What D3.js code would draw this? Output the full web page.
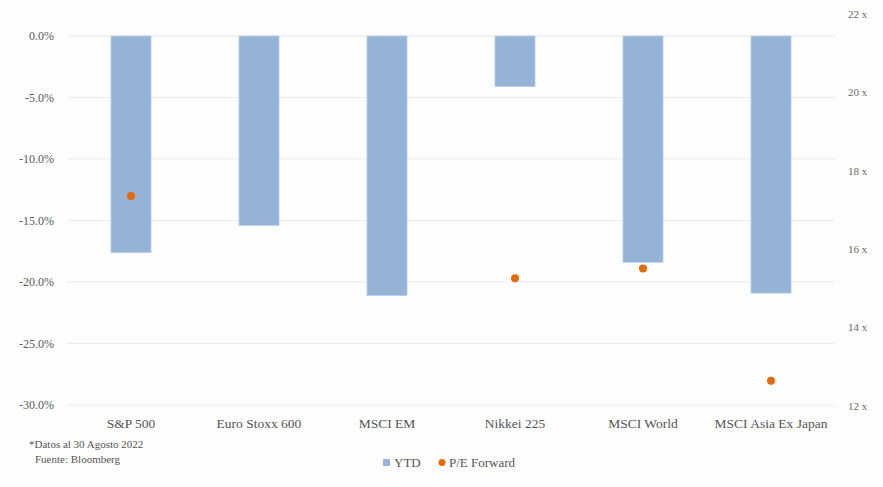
<!DOCTYPE html>
<html>
<head>
<meta charset="utf-8">
<script src="https://cdn.jsdelivr.net/npm/d3@7"></script>
<style>
  html, body { margin: 0; padding: 0; background: #fdfdfd; }
  svg { display: block; }
</style>
</head>
<body>
<svg id="chart" width="883" height="487"></svg>
<script>
const categories = ["S&P 500", "Euro Stoxx 600", "MSCI EM", "Nikkei 225", "MSCI World", "MSCI Asia Ex Japan"];
const ytd = [-17.6, -15.4, -21.1, -4.1, -18.4, -20.9];
const peForward = [17.35, null, null, 15.25, 15.5, 12.63];
const leftTicks = [0, -5, -10, -15, -20, -25, -30];
const rightTicks = [12, 14, 16, 18, 20, 22];
const notes = ["*Datos al 30 Agosto 2022", "Fuente: Bloomberg"];
const seriesNames = ["YTD", "P/E Forward"];

const FONT = "'Liberation Serif', 'Times New Roman', Times, serif";
const svg = d3.select("#chart");
const plotLeft = 67, plotRight = 835;

const x = d3.scaleBand().domain(categories).range([plotLeft, plotRight]).paddingInner(0.6875).paddingOuter(0.34375);
const yL = d3.scaleLinear().domain([-30, 0]).range([405, 36]);
const yR = d3.scaleLinear().domain([12, 22]).range([405.5, 14]);

// gridlines
svg.append("g").selectAll("line").data(leftTicks).join("line")
  .attr("x1", plotLeft).attr("x2", plotRight)
  .attr("y1", d => yL(d)).attr("y2", d => yL(d))
  .attr("stroke", "#ebebeb").attr("stroke-width", 1.2);

// left axis
const axL = d3.axisLeft(yL).tickValues(leftTicks).tickSize(0).tickPadding(0)
  .tickFormat(d => d3.format(".1f")(d).replace("\u2212", "-") + "%");
const gL = svg.append("g").attr("transform", "translate(54,0)").call(axL)
  .attr("font-family", FONT);
gL.select(".domain").remove();
gL.selectAll("text").style("font-size", "12px").style("fill", "#5a5a5a")
  .style("font-family", FONT);

// right axis
const axR = d3.axisRight(yR).tickValues(rightTicks).tickSize(0).tickPadding(0)
  .tickFormat(d => d + " x");
const gR = svg.append("g").attr("transform", "translate(848,0)").call(axR)
  .attr("font-family", FONT);
gR.select(".domain").remove();
gR.selectAll("text").style("font-size", "11px").style("fill", "#6a6a6a")
  .style("font-family", FONT);

// bars
svg.append("g").selectAll("rect").data(categories).join("rect")
  .attr("x", d => x(d))
  .attr("width", x.bandwidth())
  .attr("y", (d, i) => yL(0))
  .attr("height", (d, i) => yL(ytd[i]) - yL(0))
  .attr("fill", "#95b3d7")
  .attr("stroke", "#b7cce5").attr("stroke-width", 0.8);

// points
const ptData = categories.map((c, i) => ({c, v: peForward[i]})).filter(d => d.v != null);
svg.append("g").selectAll("circle").data(ptData).join("circle")
  .attr("cx", d => x(d.c) + x.bandwidth() / 2)
  .attr("cy", d => yR(d.v))
  .attr("r", 4)
  .attr("fill", "#e36c0a");

const txt = (sel) => sel.style("font-family", FONT).style("fill", "#555");

// category labels
svg.append("g").selectAll("text").data(categories).join("text")
  .attr("x", d => x(d) + x.bandwidth() / 2)
  .attr("y", 428)
  .attr("text-anchor", "middle")
  .style("font-size", "13.5px")
  .call(txt)
  .text(d => d);

// notes
svg.append("text").attr("x", 29).attr("y", 448).style("font-size", "11px").call(txt).text(notes[0]);
svg.append("text").attr("x", 35).attr("y", 463).style("font-size", "11px").call(txt).text(notes[1]);

// legend
const lg = svg.append("g");
lg.append("rect").attr("x", 383).attr("y", 459).attr("width", 7).attr("height", 7).attr("fill", "#95b3d7");
lg.append("text").attr("x", 394).attr("y", 467).style("font-size", "13px").call(txt).text(seriesNames[0]);
lg.append("circle").attr("cx", 442).attr("cy", 462.5).attr("r", 3.5).attr("fill", "#e36c0a");
lg.append("text").attr("x", 449).attr("y", 467).style("font-size", "13px").call(txt).text(seriesNames[1]);
</script>
</body>
</html>
